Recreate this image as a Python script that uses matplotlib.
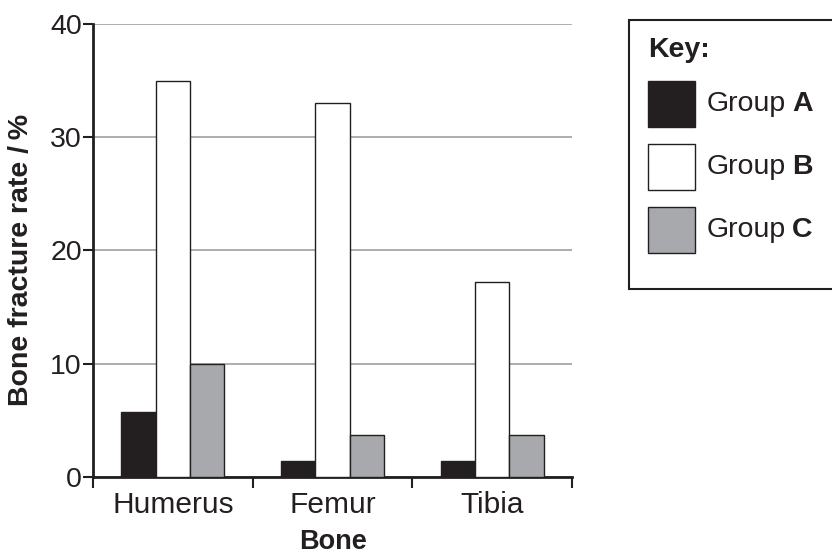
import numpy as np
import matplotlib
matplotlib.use("Agg")
import matplotlib.pyplot as plt
from matplotlib.patches import Rectangle

plt.rcParams['font.family'] = ['Liberation Sans', 'DejaVu Sans']

# data
bones = ["Humerus", "Femur", "Tibia"]
group_a = [5.7, 1.4, 1.4]
group_b = [35, 33, 17.2]
group_c = [10, 3.7, 3.7]
group_names = ["A", "B", "C"]

dark = "#231f20"
grey = "#a7a9ac"
colors = [dark, "white", grey]

fig = plt.figure(figsize=(8.32, 5.55), dpi=100)
ax = fig.add_axes([0.1118, 0.1405, 0.5757, 0.8163])

x = np.arange(len(bones))
w = 0.215
for i, vals in enumerate([group_a, group_b, group_c]):
    ax.bar(x + (i - 1) * w, vals, width=w, color=colors[i],
           edgecolor=dark, linewidth=1.0, zorder=3)

ax.set_xlim(-0.5, 2.5)
ax.set_ylim(0, 40)
ax.set_yticks([0, 10, 20, 30, 40])
ax.yaxis.grid(True, color="#a0a0a0", linewidth=1.2, zorder=0)
ax.set_axisbelow(True)

ax.set_xticks(x)
ax.set_xticklabels(bones)
ax.set_xticks([-0.5, 0.5, 1.5, 2.5], minor=True)
ax.tick_params(axis="x", which="major", length=0, labelsize=21.5, pad=10,
               colors=dark)
ax.tick_params(axis="x", which="minor", length=8, width=1.5, direction="out",
               color=dark)
ax.tick_params(axis="y", length=7, width=1.5, labelsize=20.5, pad=1,
               colors=dark)

for s in ["top", "right"]:
    ax.spines[s].set_visible(False)
for s in ["left", "bottom"]:
    ax.spines[s].set_linewidth(2)
    ax.spines[s].set_color(dark)

ax.set_xlabel("Bone", fontsize=19.5, fontweight="bold", color=dark, labelpad=7)
ax.set_ylabel("Bone fracture rate /\u2009%", fontsize=20.5, fontweight="bold",
              color=dark)
ax.yaxis.set_label_coords(-0.124, 0.479)

# key box drawn by hand in pixel coords
W, H = 832, 555
def fx(px):
    return px / W
def fy(py):
    return 1 - py / H

fig.patches.append(Rectangle((fx(629), fy(289)), fx(900) - fx(629),
                             fy(20) - fy(289), transform=fig.transFigure,
                             facecolor="white", edgecolor=dark, linewidth=1.5))
fig.text(fx(648), fy(50), "Key:", fontsize=20.5, fontweight="bold",
         color=dark, va="center", ha="left")

tops = [81, 144, 207]
labels = []
for name, col, top in zip(group_names, colors, tops):
    fig.patches.append(Rectangle((fx(648), fy(top + 46)), fx(695) - fx(648),
                                 fy(top) - fy(top + 46),
                                 transform=fig.transFigure, facecolor=col,
                                 edgecolor=dark, linewidth=1.0))
    t = fig.text(fx(707), fy(top + 23), "Group", fontsize=20.5, color=dark,
                 va="center", ha="left")
    labels.append((t, name, top))

# put the bold letter right after "Group "
fig.canvas.draw()
r = fig.canvas.get_renderer()
for t, name, top in labels:
    bb = t.get_window_extent(r)
    fig.text(bb.x1 / W + fx(6), fy(top + 23), name, fontsize=20.5,
             fontweight="bold", color=dark, va="center", ha="left")

fig.savefig("out.png", dpi=100)
